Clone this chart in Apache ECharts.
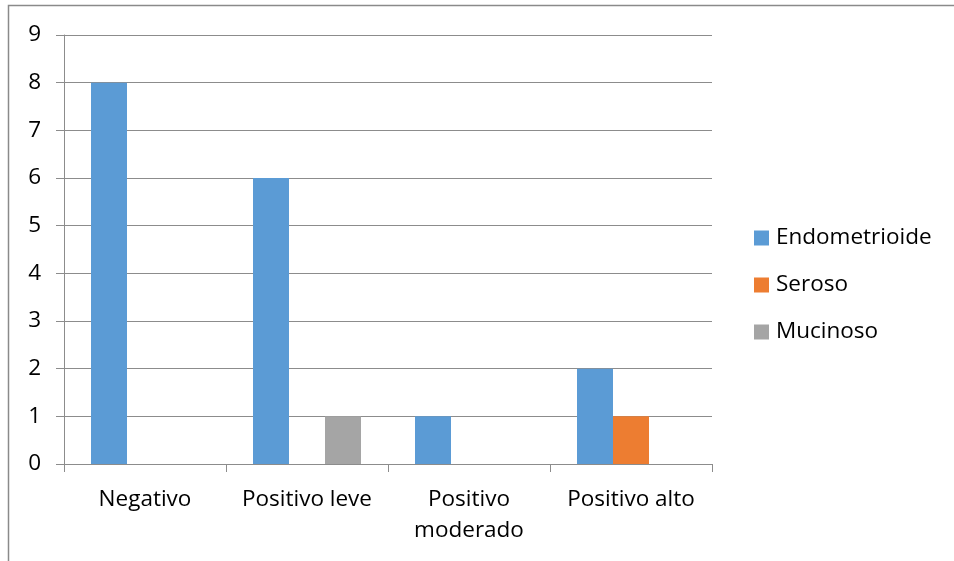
<!DOCTYPE html>
<html>
<head>
<meta charset="utf-8">
<script src="https://cdn.jsdelivr.net/npm/echarts@6/dist/echarts.min.js"></script>
<style>
  html, body { margin: 0; padding: 0; background: #fff; }
  #chart { width: 954px; height: 561px; }
</style>
</head>
<body>
<div id="chart"></div>
<script>
// Categories and counts per histological type
const categories = ['Negativo', 'Positivo leve', 'Positivo\nmoderado', 'Positivo alto'];
const endometrioide = [8, 6, 1, 2];
const seroso = [0, 0, 0, 1];
const mucinoso = [0, 1, 0, 0];
const yTicks = { min: 0, max: 9, interval: 1 };

const FONT = 'Open Sans';
const FONT_SIZE = 22.5;
const GRID_COLOR = '#8c8c8c';

const chart = echarts.init(document.getElementById('chart'), null, { renderer: 'canvas' });

chart.setOption({
  animation: false,
  backgroundColor: '#ffffff',
  textStyle: { fontFamily: FONT },
  graphic: [{
    type: 'rect',
    shape: { x: 8.5, y: 5.5, width: 1000, height: 700 },
    style: { fill: 'none', stroke: '#8a8a8a', lineWidth: 1.5 },
    silent: true
  }],
  grid: { left: 64, right: 242, top: 35, bottom: 97 },
  legend: {
    orient: 'vertical',
    left: 749,
    top: 219,
    itemWidth: 15,
    itemHeight: 15,
    itemGap: 19,
    icon: 'rect',
    textStyle: { fontFamily: FONT, fontSize: FONT_SIZE, color: '#000', lineHeight: 28, padding: [0, 0, 0, 2] }
  },
  xAxis: {
    type: 'category',
    data: categories,
    axisLine: { lineStyle: { color: GRID_COLOR, width: 1 } },
    axisTick: { show: true, length: 8, interval: 0, lineStyle: { color: GRID_COLOR } },
    axisLabel: { interval: 0, margin: 20, fontFamily: FONT, fontSize: FONT_SIZE, color: '#000', lineHeight: 31 }
  },
  yAxis: {
    type: 'value',
    min: yTicks.min,
    max: yTicks.max,
    interval: yTicks.interval,
    axisLine: { show: true, lineStyle: { color: GRID_COLOR, width: 1 } },
    axisTick: { show: true, length: 8, lineStyle: { color: GRID_COLOR } },
    axisLabel: { margin: 23, fontFamily: FONT, fontSize: FONT_SIZE, color: '#000' },
    splitLine: { lineStyle: { color: GRID_COLOR, width: 1 } }
  },
  series: [
    { name: 'Endometrioide', type: 'bar', data: endometrioide, barWidth: 36, barGap: '0%', itemStyle: { color: '#5b9bd5' } },
    { name: 'Seroso', type: 'bar', data: seroso, barWidth: 36, barGap: '0%', itemStyle: { color: '#ed7d31' } },
    { name: 'Mucinoso', type: 'bar', data: mucinoso, barWidth: 36, barGap: '0%', itemStyle: { color: '#a5a5a5' } }
  ]
});
</script>
</body>
</html>
